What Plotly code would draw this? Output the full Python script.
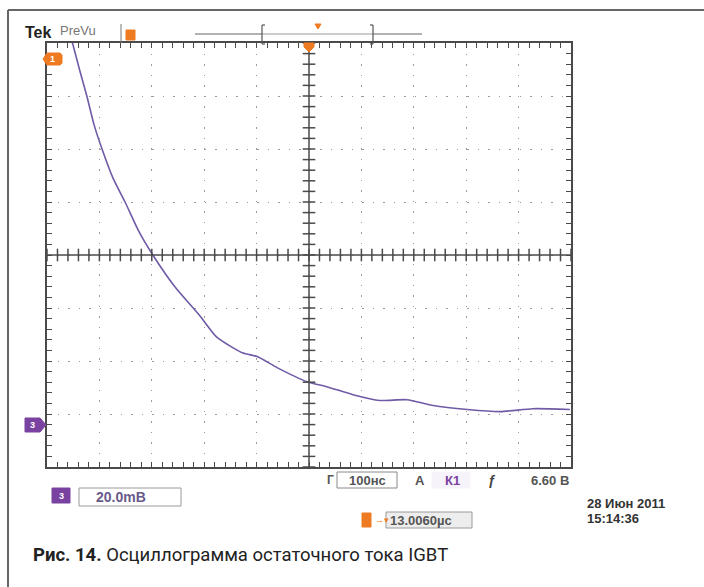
import plotly.graph_objects as go

# Channel 3 trace: time from left edge of the screen (ns), voltage above ch3 ground (mV)
t_ns = [46, 62, 76, 90, 105, 126, 149, 175, 202, 244, 292, 324, 374, 401, 439, 496, 534,
        584, 635, 687, 737, 802, 865, 927, 998]
v_mv = [146, 134, 124, 113, 104, 93, 84, 73, 64, 52, 41, 33, 27, 25.7, 21.5, 16.2, 14.3,
        11.3, 9.1, 9.4, 7.2, 5.7, 4.9, 6.0, 5.7]

# Screen scales: 100 ns/div x 10 div, 20 mV/div x 8 div
x_range = [0, 1000]
y_range = [-16, 144]
x_div = 100
y_div = 20
center_x = 500
center_y = 64

# Readouts
timebase = "100нс"
ch3_scale = "20.0mВ"
trig_level = "6.60 В"
trig_pos = "13.0060µс"
date_txt = "28 Июн 2011"
time_txt = "15:14:36"
caption_bold = "Рис. 14."
caption_rest = "Осциллограмма остаточного тока IGBT"

W, H = 704, 587
L, R, T, B = 47, 571, 43, 467
ORANGE = "#ee7a22"
PURPLE = "#7a42a0"
TRACE = "#6f5ba6"
DARK = "#4a4a4a"
GRID = "#9a9a9a"


def px(x):
    return (x - L) / (R - L)


def py(y):
    return (B - y) / (B - T)


fig = go.Figure()

fig.add_trace(go.Scatter(x=t_ns, y=v_mv, mode="lines",
                         line=dict(color=TRACE, width=1.6, shape="spline", smoothing=0.6),
                         hoverinfo="skip", showlegend=False))

# Small tick marks along the centre cross
minor_x = [x_range[0] + i * x_div / 5 for i in range(51)]
minor_y = [y_range[0] + i * y_div / 5 for i in range(41)]
fig.add_trace(go.Scatter(x=minor_x, y=[center_y] * len(minor_x), mode="markers",
                         marker=dict(symbol="line-ns", size=9, color=DARK,
                                     line=dict(color=DARK, width=1.5)),
                         cliponaxis=False, hoverinfo="skip", showlegend=False))
fig.add_trace(go.Scatter(x=[center_x] * len(minor_y), y=minor_y, mode="markers",
                         marker=dict(symbol="line-ew", size=9, color=DARK,
                                     line=dict(color=DARK, width=1.5)),
                         cliponaxis=False, hoverinfo="skip", showlegend=False))

shapes = []
# Centre cross
shapes.append(dict(type="line", xref="x", yref="y", x0=center_x, x1=center_x,
                   y0=y_range[0], y1=y_range[1], line=dict(color=DARK, width=1.5)))
shapes.append(dict(type="line", xref="x", yref="y", x0=x_range[0], x1=x_range[1],
                   y0=center_y, y1=center_y, line=dict(color=DARK, width=1.5)))

# Page frame (top and left rule)
shapes.append(dict(type="line", xref="paper", yref="paper", x0=px(8), x1=px(704),
                   y0=py(10), y1=py(10), line=dict(color="#666666", width=2)))
shapes.append(dict(type="line", xref="paper", yref="paper", x0=px(8), x1=px(8),
                   y0=py(10), y1=py(587), line=dict(color="#666666", width=2)))


def rect(x0, y0, x1, y1, fill="rgba(0,0,0,0)", line="#9a9a9a", lw=1):
    shapes.append(dict(type="rect", xref="paper", yref="paper", x0=px(x0), x1=px(x1),
                       y0=py(y0), y1=py(y1), fillcolor=fill, line=dict(color=line, width=lw)))


def seg(x0, y0, x1, y1, color=DARK, lw=1):
    shapes.append(dict(type="line", xref="paper", yref="paper", x0=px(x0), x1=px(x1),
                       y0=py(y0), y1=py(y1), line=dict(color=color, width=lw)))


def path(pts, color):
    d = "M " + " L ".join(f"{px(a)},{py(b)}" for a, b in pts) + " Z"
    shapes.append(dict(type="path", xref="paper", yref="paper", path=d,
                       fillcolor=color, line=dict(color=color, width=1)))


# Header: separator, trigger-position square, record view bar with brackets
seg(121, 24, 121, 43, "#777777", 1)
rect(126, 30, 135, 40, fill=ORANGE, line=ORANGE)
seg(195, 34, 262, 34, "#666666", 1.2)
seg(262, 34, 373, 34, "#999999", 1)
seg(373, 34, 422, 34, "#666666", 1.2)
for bx, s in [(262, 1), (373, -1)]:
    seg(bx, 25, bx, 44, "#555555", 1.2)
    seg(bx, 25, bx + 3 * s, 25, "#555555", 1.2)
    seg(bx, 44, bx + 3 * s, 44, "#555555", 1.2)
path([(315, 24), (321, 24), (318, 29)], ORANGE)
# Trigger marker on the top edge
path([(304, 43), (314, 43), (314, 47), (309, 52), (304, 47)], ORANGE)

# Channel reference markers
path([(47, 53), (60, 53), (62, 55), (62, 63), (60, 65), (47, 65), (43, 59)], ORANGE)
path([(25, 418), (40, 418), (46, 425), (40, 432), (25, 432)], PURPLE)

# Readout boxes
rect(337, 472, 397, 488, fill="white", line="#8a8a8a")
rect(432, 472, 470, 488, fill="#f6f4fa", line="#f6f4fa")
rect(52, 488, 70, 503, fill=PURPLE, line=PURPLE)
rect(79, 488, 181, 506, fill="white", line="#9a9a9a")
rect(362, 513, 371, 527, fill=ORANGE, line=ORANGE)
rect(386, 512, 472, 528, fill="#ededed", line="#9a9a9a")

annotations = []


def text(x, y, s, size=11, color=DARK, bold=False, anchor="left", family="Liberation Sans"):
    annotations.append(dict(xref="paper", yref="paper", x=px(x), y=py(y), text=(f"<b>{s}</b>" if bold else s),
                            showarrow=False, xanchor=anchor, yanchor="middle",
                            font=dict(size=size, color=color, family=family)))


text(23, 32, "Tek", 16, "#222222", bold=True)
text(58, 31, "PreVu", 13, "#777777")
text(48, 59, "1", 9, "white", bold=True)
text(28, 425, "3", 9, "white", bold=True)
text(325, 480, "Г", 12, "#555555", bold=True)
text(367, 480, timebase, 13, "#555555", bold=True, anchor="center")
text(413, 480, "A", 13, "#555555", bold=True)
text(443, 480, "К1", 13, PURPLE, bold=True)
text(486, 480, "ƒ", 14, "#444444", bold=True)
text(571, 480, trig_level, 13, "#555555", bold=True, anchor="right")
text(61, 496, "3", 9, "white", bold=True, anchor="center")
text(94, 497, ch3_scale, 14, "#6a5a8a", bold=True)
text(373, 520, "→▾", 9, ORANGE)
text(388, 520, trig_pos, 13, "#555555", bold=True)
text(585, 503, date_txt, 13, "#333333", bold=True)
text(585, 518, time_txt, 13, "#333333", bold=True)
text(31, 555, f"<b>{caption_bold}</b> {caption_rest}", 18.5, "#222222", family="Roboto")

fig.update_layout(
    width=W, height=H,
    margin=dict(l=L, r=W - R, t=T, b=H - B, pad=0),
    paper_bgcolor="white", plot_bgcolor="white",
    showlegend=False,
    shapes=shapes,
    annotations=annotations,
    xaxis=dict(range=x_range, dtick=x_div, tick0=0, showgrid=True, gridcolor=GRID, gridwidth=1,
               griddash="1.5px,9px", zeroline=False, showline=True, linecolor=DARK, linewidth=2,
               mirror="ticks", ticks="inside", ticklen=5, tickwidth=1.2, tickcolor=DARK,
               showticklabels=False,
               minor=dict(dtick=x_div / 5, ticks="inside", ticklen=5, tickwidth=1.2,
                          tickcolor=DARK, showgrid=False),
               fixedrange=True),
    yaxis=dict(range=y_range, dtick=y_div, tick0=4, showgrid=True, gridcolor=GRID, gridwidth=1,
               griddash="1.5px,9px", zeroline=False, showline=True, linecolor=DARK, linewidth=2,
               mirror="ticks", ticks="inside", ticklen=5, tickwidth=1.2, tickcolor=DARK,
               showticklabels=False,
               minor=dict(dtick=y_div / 5, tick0=4, ticks="inside", ticklen=5, tickwidth=1.2,
                          tickcolor=DARK, showgrid=False),
               fixedrange=True),
)

fig.write_html("out.html")
